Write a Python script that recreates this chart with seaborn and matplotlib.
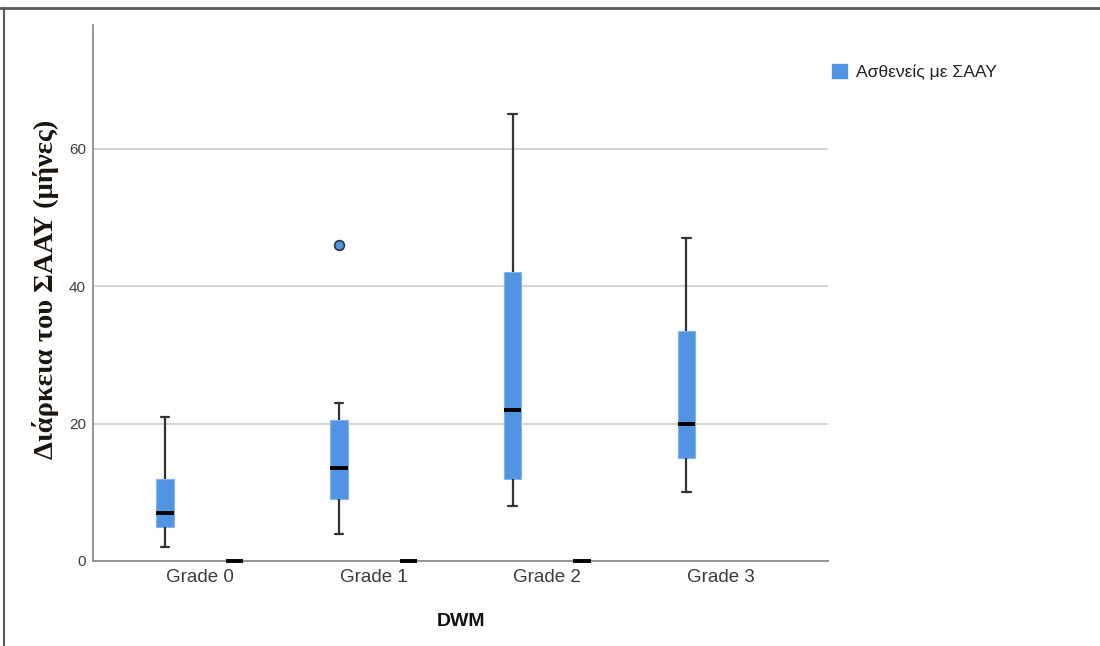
import pandas as pd
import matplotlib
matplotlib.use("Agg")
import matplotlib.pyplot as plt
from matplotlib.lines import Line2D
from matplotlib.patches import Patch
import seaborn as sns

# Categories and groups
grades = ["Grade 0", "Grade 1", "Grade 2", "Grade 3"]
groups = ["Ασθενείς με ΣΑΑΥ", "Μάρτυρες"]

# Duration (months) per DWM grade, patients group
patients_g0 = [2, 5, 7, 12, 21]
patients_g1 = [4, 7, 9, 12, 13.5, 16, 20.5, 23, 46]
patients_g2 = [8, 12, 22, 42, 65]
patients_g3 = [10, 15, 20, 33.5, 47]

# Second group: zero duration
controls_g0 = [0, 0, 0]
controls_g1 = [0, 0, 0]
controls_g2 = [0, 0, 0]
controls_g3 = []

y_ticks = [0, 20, 40, 60]

patients = [patients_g0, patients_g1, patients_g2, patients_g3]
controls = [controls_g0, controls_g1, controls_g2, controls_g3]

rows = []
for g, vals in zip(grades, patients):
    rows += [{"grade": g, "group": groups[0], "months": v} for v in vals]
for g, vals in zip(grades, controls):
    rows += [{"grade": g, "group": groups[1], "months": v} for v in vals]
df = pd.DataFrame(rows)

sns.set_theme(style="white")
plt.rcParams["font.family"] = ["Liberation Sans", "DejaVu Sans"]

BLUE = "#5294E4"
DARK = "#333333"

fig = plt.figure(figsize=(11, 6.46), dpi=100)
ax = fig.add_axes([93 / 1100, 1 - 561 / 646, 735 / 1100, 536 / 646])

sns.boxplot(
    data=df, x="grade", y="months", hue="group",
    order=grades, hue_order=groups,
    palette=[BLUE, BLUE], saturation=1, width=0.8, gap=0.75, dodge=True,
    whis=1.5, legend=False, ax=ax,
    boxprops={"edgecolor": "#86b3ec", "linewidth": 0.8},
    whiskerprops={"color": DARK, "linewidth": 1.6},
    capprops={"color": DARK, "linewidth": 1.6},
    medianprops={"color": "black", "linewidth": 2.8, "clip_on": False, "zorder": 6},
    flierprops={"marker": "o", "markerfacecolor": BLUE, "markeredgecolor": "#2a3442",
                "markersize": 7, "markeredgewidth": 1.2},
)

ax.set_xlim(-0.615, 3.615)
ax.set_ylim(0, 78)
ax.set_yticks(y_ticks)
ax.set_yticklabels([str(t) for t in y_ticks])
ax.yaxis.grid(True, color="#d3d3d3", linewidth=1.4)
ax.xaxis.grid(False)
ax.set_axisbelow(True)

for side in ["top", "right"]:
    ax.spines[side].set_visible(False)
for side in ["left", "bottom"]:
    ax.spines[side].set_color("#8c8c8c")
    ax.spines[side].set_linewidth(1.3)

ax.tick_params(axis="x", length=0, pad=6, labelsize=13.5, labelcolor="#3c3c3c")
ax.tick_params(axis="y", length=0, pad=5, labelsize=11, labelcolor="#3c3c3c")

ax.set_xlabel("DWM", fontsize=14, fontweight="bold", color="#111111")
ax.xaxis.label.set_va("center")
ax.xaxis.set_label_coords(0.5, (561 - 622) / 536)
ax.set_ylabel("")

fig.text(46 / 1100, 1 - 289 / 646, "Διάρκεια του ΣΑΑΥ (μήνες)",
         rotation=90, ha="center", va="center",
         fontsize=20.5, fontweight="bold", family=["Liberation Serif", "DejaVu Serif"],
         color="#1a140c")

fig.legend(handles=[Patch(facecolor=BLUE, edgecolor=BLUE)], labels=[groups[0]],
           loc="upper left", bbox_to_anchor=(832 / 1100, 1 - 64 / 646),
           frameon=False, fontsize=12.6, handlelength=0.85, handleheight=0.85,
           handletextpad=0.5, borderpad=0, borderaxespad=0, labelcolor="#222222")

# Outer frame lines (top and left)
fig.add_artist(Line2D([0, 1], [1 - 8 / 646] * 2, transform=fig.transFigure,
                      color="#5a5a5a", linewidth=2))
fig.add_artist(Line2D([4 / 1100] * 2, [0, 1 - 8 / 646], transform=fig.transFigure,
                      color="#5a5a5a", linewidth=1.5))

fig.savefig("out.png", dpi=100, facecolor="white")
